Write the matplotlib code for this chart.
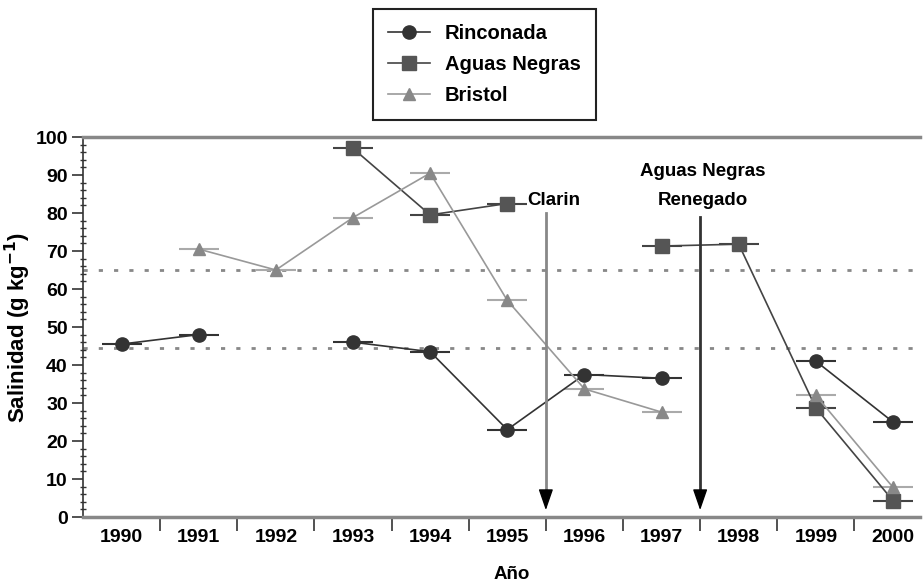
import numpy as np
import matplotlib.pyplot as plt
from matplotlib.ticker import MultipleLocator, FixedLocator

plt.rcParams['font.family'] = ['Liberation Sans', 'DejaVu Sans']
plt.rcParams['font.weight'] = 'bold'

# datos
anios = ['1990', '1991', '1992', '1993', '1994', '1995', '1996', '1997', '1998', '1999', '2000']
rinconada = [45.5, 48, np.nan, 46, 43.5, 23, 37.5, 36.5, np.nan, 41, 25]
aguas_negras = [np.nan, np.nan, np.nan, 97, 79.5, 82.5, np.nan, 71.3, 71.8, 28.7, 4.3]
bristol = [np.nan, 70.5, 65, 78.8, 90.5, 57, 33.7, 27.6, np.nan, 32, 7.8]
umbrales = [65, 44.5]
eventos = [(5.5, 80, 'Clarin', '#888888', 0.1), (7.5, 79, 'Aguas Negras\nRenegado', '#333333', 0.04)]

x = np.arange(len(anios))

fig = plt.figure(figsize=(9.23, 5.88), dpi=100)
ax = fig.add_axes([83 / 923, 1 - 517 / 588, 837 / 923, 380 / 588])

series = [
    ('Rinconada', rinconada, 'o', '#333333', '#333333', '#333333', 9.5),
    ('Aguas Negras', aguas_negras, 's', '#555555', '#444444', '#444444', 9.5),
    ('Bristol', bristol, '^', '#888888', '#999999', '#aaaaaa', 9),
]
for nombre, vals, mk, mc, lc, ec, ms in series:
    ax.errorbar(x, vals, xerr=0.26, fmt='none', ecolor=ec, elinewidth=1.5, capsize=0, zorder=2)
    ax.plot(x, vals, color=lc, lw=1.2, marker=mk, ms=ms, mfc=mc, mec=mc, label=nombre, zorder=3)

for u in umbrales:
    ax.axhline(u, color='#888888', lw=2, linestyle=(0, (1.5, 4)), zorder=1)

# flechas de eventos
for xe, ytop, txt, col, dx in eventos:
    ax.plot([xe, xe], [6, ytop], color=col, lw=2, zorder=4)
    ax.annotate('', xy=(xe, 1.8), xytext=(xe, 6.6),
                arrowprops=dict(arrowstyle='-|>,head_length=1.3,head_width=0.45',
                                color='black', lw=1, shrinkA=0, shrinkB=0), zorder=5)
    ax.text(xe + dx, 81, txt, ha='center', va='bottom',
            fontsize=13.5, fontweight='bold', linespacing=1.9, zorder=5)

ax.set_xlim(-0.5, 10.35)
ax.set_ylim(0, 100)

ax.xaxis.set_major_locator(FixedLocator(np.arange(0.5, 10.5, 1)))
ax.xaxis.set_minor_locator(FixedLocator(x))
ax.set_xticklabels([], minor=False)
ax.set_xticklabels(anios, minor=True, fontsize=14, fontweight='bold')
ax.tick_params(axis='x', which='major', direction='out', length=10, width=1.2, color='#333333')
ax.tick_params(axis='x', which='minor', length=0, pad=9)

ax.yaxis.set_major_locator(MultipleLocator(10))
ax.yaxis.set_minor_locator(MultipleLocator(2))
ax.tick_params(axis='y', which='major', direction='out', length=8, width=1.2, color='#333333',
               labelsize=14, pad=3)
ax.tick_params(axis='y', which='minor', direction='inout', length=5, width=1, color='#333333')
for lab in ax.get_yticklabels():
    lab.set_fontweight('bold')

ax.spines['right'].set_visible(False)
ax.spines['top'].set_color('#888888')
ax.spines['top'].set_linewidth(2.5)
ax.spines['bottom'].set_color('#888888')
ax.spines['bottom'].set_linewidth(2.5)
ax.spines['left'].set_color('#333333')
ax.spines['left'].set_linewidth(1.2)

ax.set_ylabel('Salinidad (g kg$^{\\mathbf{-1}}$)', fontsize=16, fontweight='bold')
ax.yaxis.set_label_coords(-50 / 837, 0.5)
ax.set_xlabel('Año', fontsize=13.5, fontweight='bold')
ax.xaxis.set_label_coords(0.5125, -0.13)

leg = fig.legend(loc='upper left', bbox_to_anchor=(373 / 923, 1 - 9 / 588), borderaxespad=0,
                 fancybox=False, edgecolor='#222222', framealpha=1, prop={'size': 14.5, 'weight': 'bold'},
                 handlelength=2.1, labelspacing=0.6, borderpad=0.75, handletextpad=0.72)
leg.get_frame().set_linewidth(1.5)

fig.savefig('out.png', dpi=100)
